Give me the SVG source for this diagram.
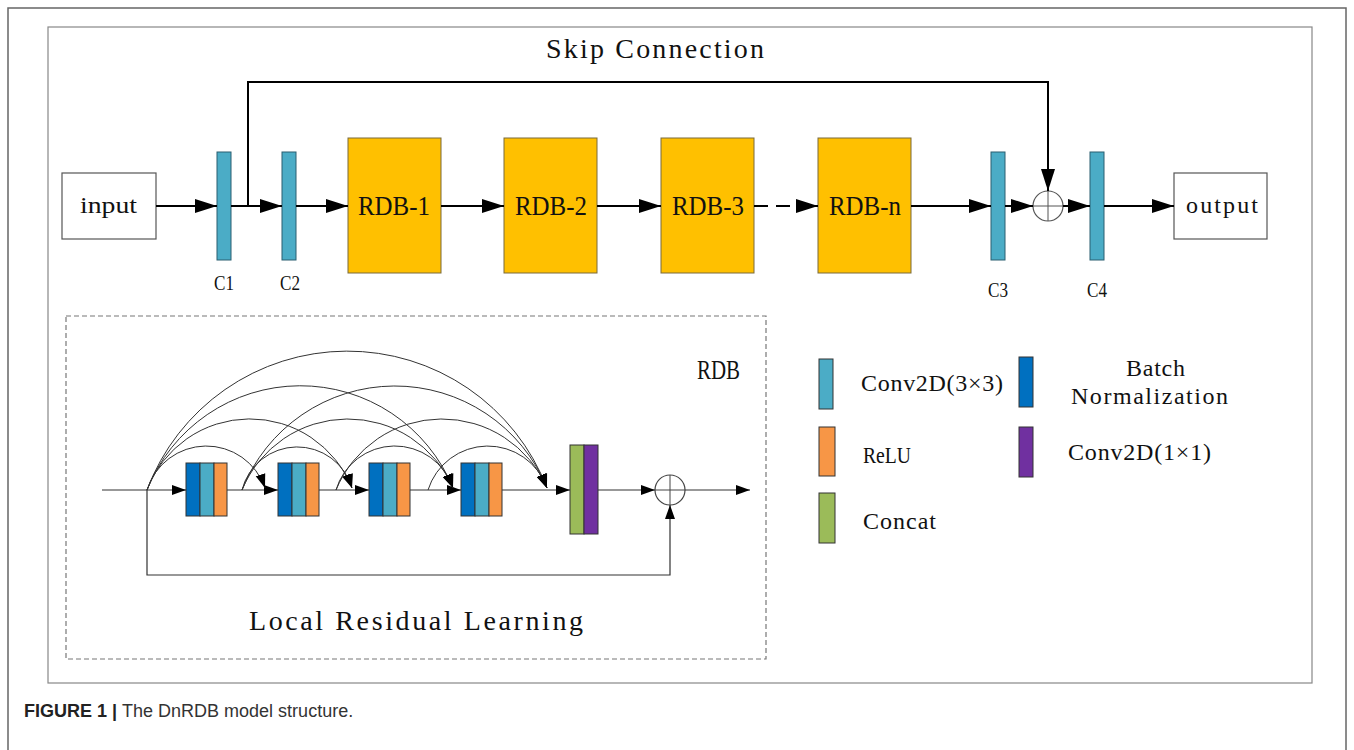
<svg xmlns="http://www.w3.org/2000/svg" width="1354" height="750" viewBox="0 0 1354 750">
<style>
.mono{font-family:"Liberation Serif","DejaVu Serif",serif;fill:#111}
.bar{fill:#4BACC6;stroke:#2a5f70;stroke-width:1}
.rdb{fill:#FFC000;stroke:#7a6a3a;stroke-width:1}
.io{fill:#fff;stroke:#555;stroke-width:1.2}
.top{stroke:#000;stroke-width:2;fill:none}
.low{stroke:#333;stroke-width:1.2;fill:none}
.arc{stroke:#333;stroke-width:1;fill:none}
.blk{stroke:#333;stroke-width:1}
</style>
<defs>
<marker id="ah" viewBox="0 0 22 14" refX="22" refY="7" markerWidth="22" markerHeight="14" markerUnits="userSpaceOnUse" orient="auto"><path d="M0,0 L22,7 L0,14 Z" fill="#000"/></marker>
<marker id="as" viewBox="0 0 14 10" refX="14" refY="5" markerWidth="14" markerHeight="10" markerUnits="userSpaceOnUse" orient="auto"><path d="M0,0 L14,5 L0,10 Z" fill="#000"/></marker>
<marker id="aa" viewBox="0 0 14 10" refX="14" refY="5" markerWidth="14" markerHeight="11" markerUnits="userSpaceOnUse" orient="auto"><path d="M0,0 L14,5 L0,10 Z" fill="#000"/></marker>
</defs>
<rect width="1354" height="750" fill="#fff"/>
<rect x="8" y="8" width="1338" height="760" fill="none" stroke="#666" stroke-width="1.5"/>
<rect x="48" y="27" width="1264" height="656" fill="none" stroke="#888" stroke-width="1.2"/>

<text class="mono" x="546" y="58" font-size="28" textLength="218" lengthAdjust="spacing">Skip Connection</text>

<g id="input"><rect class="io" x="62" y="173" width="94" height="66"/><text class="mono" x="80" y="213" font-size="23" textLength="57" lengthAdjust="spacingAndGlyphs">input</text></g>
<g id="C1"><rect class="bar" x="217" y="152" width="14" height="108"/><text class="mono" x="214" y="290" font-size="20" textLength="20" lengthAdjust="spacingAndGlyphs">C1</text></g>
<g id="C2"><rect class="bar" x="282" y="152" width="14" height="108"/><text class="mono" x="280" y="290" font-size="20" textLength="20" lengthAdjust="spacingAndGlyphs">C2</text></g>
<g id="RDB-1"><rect class="rdb" x="348" y="138" width="93" height="135"/><text class="mono" x="358" y="215" font-size="27" textLength="72" lengthAdjust="spacingAndGlyphs">RDB-1</text></g>
<g id="RDB-2"><rect class="rdb" x="504" y="138" width="93" height="135"/><text class="mono" x="515" y="215" font-size="27" textLength="72" lengthAdjust="spacingAndGlyphs">RDB-2</text></g>
<g id="RDB-3"><rect class="rdb" x="661" y="138" width="93" height="135"/><text class="mono" x="672" y="215" font-size="27" textLength="72" lengthAdjust="spacingAndGlyphs">RDB-3</text></g>
<g id="RDB-n"><rect class="rdb" x="818" y="138" width="93" height="135"/><text class="mono" x="829" y="215" font-size="27" textLength="72" lengthAdjust="spacingAndGlyphs">RDB-n</text></g>
<g id="C3"><rect class="bar" x="991" y="152" width="14" height="108"/><text class="mono" x="988" y="297" font-size="20" textLength="20" lengthAdjust="spacingAndGlyphs">C3</text></g>
<g id="add1"><circle cx="1048" cy="206" r="15" fill="#fff" stroke="#555" stroke-width="1.2"/><path d="M1033,206 H1063 M1048,191 V221" stroke="#555" stroke-width="1"/></g>
<g id="C4"><rect class="bar" x="1090" y="152" width="14" height="108"/><text class="mono" x="1087" y="297" font-size="20" textLength="20" lengthAdjust="spacingAndGlyphs">C4</text></g>
<g id="output"><rect class="io" x="1174" y="173" width="93" height="66"/><text class="mono" x="1186" y="213" font-size="24" textLength="72" lengthAdjust="spacing">output</text></g>

<g id="connectors-top">
<path class="top" d="M156,206 H217" marker-end="url(#ah)"/>
<path class="top" d="M231,206 H282" marker-end="url(#ah)"/>
<path class="top" d="M296,206 H348" marker-end="url(#ah)"/>
<path class="top" d="M441,206 H504" marker-end="url(#ah)"/>
<path class="top" d="M597,206 H661" marker-end="url(#ah)"/>
<path class="top" d="M754,206 H800" stroke-dasharray="14,8"/>
<path class="top" d="M800,206 H818" marker-end="url(#ah)"/>
<path class="top" d="M911,206 H991" marker-end="url(#ah)"/>
<path class="top" d="M1005,206 H1033" marker-end="url(#ah)"/>
<path class="top" d="M1063,206 H1090" marker-end="url(#ah)"/>
<path class="top" d="M1104,206 H1174" marker-end="url(#ah)"/>
<path class="top" d="M248,206 V82 H1048 V191" marker-end="url(#ah)"/>
</g>

<rect x="66" y="316" width="700" height="343" fill="none" stroke="#777" stroke-width="1.2" stroke-dasharray="5,3"/>
<text class="mono" x="697" y="379" font-size="27" textLength="43" lengthAdjust="spacingAndGlyphs">RDB</text>
<text class="mono" x="249" y="630" font-size="28" textLength="334" lengthAdjust="spacing">Local Residual Learning</text>

<g id="block1"><rect class="blk" x="186" y="463" width="14" height="53" fill="#0070C0"/><rect class="blk" x="200" y="463" width="14" height="53" fill="#4BACC6"/><rect class="blk" x="214" y="463" width="13" height="53" fill="#F79646"/></g>
<g id="block2"><rect class="blk" x="278" y="463" width="14" height="53" fill="#0070C0"/><rect class="blk" x="292" y="463" width="14" height="53" fill="#4BACC6"/><rect class="blk" x="306" y="463" width="13" height="53" fill="#F79646"/></g>
<g id="block3"><rect class="blk" x="369" y="463" width="14" height="53" fill="#0070C0"/><rect class="blk" x="383" y="463" width="14" height="53" fill="#4BACC6"/><rect class="blk" x="397" y="463" width="13" height="53" fill="#F79646"/></g>
<g id="block4"><rect class="blk" x="461" y="463" width="14" height="53" fill="#0070C0"/><rect class="blk" x="475" y="463" width="14" height="53" fill="#4BACC6"/><rect class="blk" x="489" y="463" width="13" height="53" fill="#F79646"/></g>
<g id="concat"><rect class="blk" x="570" y="445" width="14" height="89" fill="#9BBB59"/><rect class="blk" x="584" y="445" width="14" height="89" fill="#7030A0"/></g>
<g id="add2"><circle cx="670" cy="490" r="15" fill="#fff" stroke="#444" stroke-width="1.2"/><path d="M655,490 H685 M670,475 V505" stroke="#444" stroke-width="1"/></g>

<g id="connectors-rdb">
<path class="low" d="M102,490 H186" marker-end="url(#as)"/>
<path class="low" d="M227,490 H278" marker-end="url(#as)"/>
<path class="low" d="M319,490 H369" marker-end="url(#as)"/>
<path class="low" d="M410,490 H461" marker-end="url(#as)"/>
<path class="low" d="M502,490 H570" marker-end="url(#as)"/>
<path class="low" d="M598,490 H655" marker-end="url(#as)"/>
<path class="low" d="M685,490 H750" marker-end="url(#as)"/>
<path class="low" d="M147,490 V575 H670 V505" marker-end="url(#as)"/>
<path class="arc" d="M147,490 A62 62 0 0 1 265,488" marker-end="url(#aa)"/>
<path class="arc" d="M147,490 A110 110 0 0 1 352,488" marker-end="url(#aa)"/>
<path class="arc" d="M147,490 A165 165 0 0 1 453,488" marker-end="url(#aa)"/>
<path class="arc" d="M147,490 A214 214 0 0 1 547,488" marker-end="url(#aa)"/>
<path class="arc" d="M242,490 A57 57 0 0 1 352,488" marker-end="url(#aa)"/>
<path class="arc" d="M242,490 A114.5 114.5 0 0 1 453,488" marker-end="url(#aa)"/>
<path class="arc" d="M242,490 A164.4 164.4 0 0 1 547,488" marker-end="url(#aa)"/>
<path class="arc" d="M336,490 A61.3 61.3 0 0 1 453,488" marker-end="url(#aa)"/>
<path class="arc" d="M336,490 A114.5 114.5 0 0 1 547,488" marker-end="url(#aa)"/>
<path class="arc" d="M428,490 A62.7 62.7 0 0 1 547,488" marker-end="url(#aa)"/>
</g>

<g id="legend">
<rect class="blk" x="819" y="359" width="14" height="50" fill="#4BACC6"/>
<text class="mono" x="861" y="391" font-size="24" textLength="142" lengthAdjust="spacing">Conv2D(3×3)</text>
<rect class="blk" x="819" y="427" width="16" height="49" fill="#F79646"/>
<text class="mono" x="863" y="463" font-size="24" textLength="48" lengthAdjust="spacingAndGlyphs">ReLU</text>
<rect class="blk" x="819" y="493" width="16" height="50" fill="#9BBB59"/>
<text class="mono" x="863" y="529" font-size="24" textLength="73" lengthAdjust="spacing">Concat</text>
<rect class="blk" x="1019" y="357" width="14" height="50" fill="#0070C0"/>
<text class="mono" x="1126" y="376" font-size="24" textLength="59" lengthAdjust="spacing">Batch</text>
<text class="mono" x="1071" y="404" font-size="24" textLength="157" lengthAdjust="spacing">Normalization</text>
<rect class="blk" x="1019" y="427" width="14" height="50" fill="#7030A0"/>
<text class="mono" x="1068" y="460" font-size="24" textLength="143" lengthAdjust="spacing">Conv2D(1×1)</text>
</g>

<text x="24" y="717" font-family="Liberation Sans, Arial, sans-serif" font-size="18" fill="#333"><tspan font-weight="bold" fill="#222">FIGURE 1 | </tspan>The DnRDB model structure.</text>
</svg>
